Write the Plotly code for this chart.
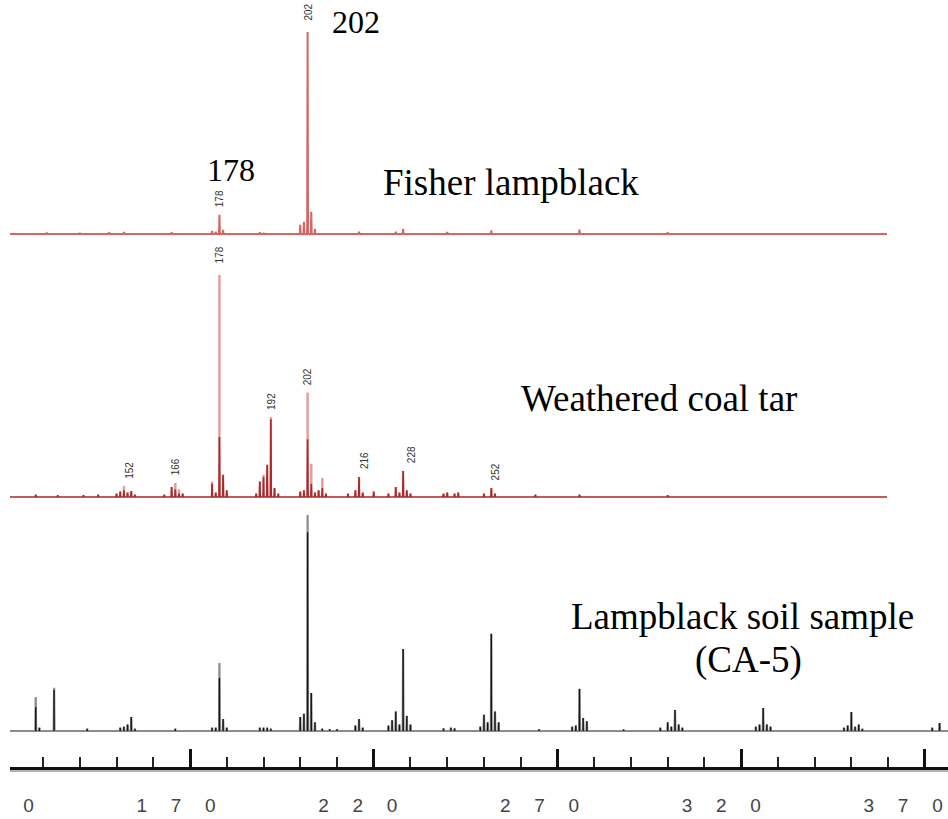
import plotly.graph_objects as go

# ---------------- data ----------------
# x (m/z) tick values / labels
tick_vals = [170, 220, 270, 320, 370]
label_vals = [120, 170, 220, 270, 320, 370]
label_texts = ["120", "170", "220", "270", "320", "370"]

MZ_START = 121.0
MZ_END_RED = 359.7
MZ_END_BLACK = 376.3

# Fisher lampblack (relative intensity, 202 = 100)
fl_mz = [131, 140, 148, 152, 165, 176, 177, 178, 179, 189, 190, 200, 201, 202, 203, 204,
         216, 226, 228, 240, 252, 276, 300]
fl_int = [0.7, 0.6, 0.8, 1.0, 0.8, 1.5, 1.2, 9.5, 2.0, 0.8, 0.6, 4.5, 6.0, 100, 11, 2.5,
          1.2, 1.2, 2.5, 1.0, 1.8, 2.2, 0.8]
fl_labels_mz = [178, 202]
fl_labels = ["178", "202"]

# Weathered coal tar (relative intensity, 178 = 100)
wc_mz = [128, 134, 141, 145, 150, 151, 152, 153, 154, 155, 163, 165, 166, 167, 168,
         176, 177, 178, 179, 180, 188, 189, 190, 191, 192, 193, 194, 200, 201, 202,
         203, 204, 205, 206, 207, 213, 215, 216, 217, 220, 224, 226, 227, 228, 229,
         230, 239, 240, 242, 243, 250, 252, 253, 264, 276, 300]
wc_light = [1.0, 0.8, 0.8, 1.0, 1.5, 2.5, 5.0, 2.0, 2.7, 1.0, 1.0, 4.5, 6.3, 3.5, 1.5,
            7.0, 2.0, 100, 10, 3.0, 1.5, 7.0, 10, 14.5, 36, 4.0, 1.5, 2.5, 3.0, 47,
            15, 2.0, 3.0, 8.6, 1.5, 1.5, 3.0, 9.0, 2.0, 2.5, 1.5, 4.5, 2.0, 11.7, 3.0,
            1.5, 1.5, 2.0, 1.5, 2.0, 1.5, 4.0, 1.5, 1.0, 1.0, 0.8]
wc_dark = [1.0, 0.8, 0.8, 1.0, 1.5, 2.5, 3.0, 2.0, 2.7, 1.0, 1.0, 4.5, 3.5, 1.5, 1.5,
           6.0, 2.0, 27, 10, 3.0, 1.5, 7.0, 9.0, 14.5, 35, 4.0, 1.5, 2.5, 3.0, 26,
           6.0, 2.0, 3.0, 4.0, 1.5, 1.5, 3.0, 9.0, 2.0, 2.5, 1.5, 4.5, 2.0, 11.7, 3.0,
           1.5, 1.5, 2.0, 1.5, 2.0, 1.5, 4.0, 1.5, 1.0, 1.0, 0.8]
wc_labels_mz = [152, 166, 178, 192, 202, 216, 228, 252]
wc_labels = ["152", "166", "178", "192", "202", "216", "228", "252"]
wc_label_xshift = [6, 0, 0, 0, 0, 5, 8, 4]

# Lampblack soil sample CA-5 (relative intensity, 202 = 100)
cs_mz = [128, 129, 133, 142, 151, 152, 153, 154, 155, 166, 176, 177, 178, 179, 180,
         189, 190, 191, 192, 200, 201, 202, 203, 204, 206, 208, 210, 215, 216, 217,
         224, 225, 226, 227, 228, 229, 230, 239, 241, 242, 249, 250, 251, 252, 253,
         254, 265, 274, 275, 276, 277, 278, 288, 298, 300, 301, 302, 303, 304, 324,
         325, 326, 327, 328, 348, 349, 350, 351, 352, 353, 372, 374]
cs_gray = [15.7, 1.5, 20, 1.0, 1.5, 2.0, 3.0, 6.5, 1.0, 1.0, 1.5, 1.5, 31.5, 5.5, 1.5,
           1.5, 1.5, 1.5, 1.0, 6.5, 8.0, 100, 17.6, 4.0, 1.0, 0.8, 0.8, 2.5, 5.5, 1.5,
           2.5, 5.0, 9.0, 3.0, 38, 7.0, 3.0, 1.2, 1.5, 1.2, 2.0, 7.5, 4.0, 45, 9.0,
           4.0, 0.8, 2.0, 2.5, 19.5, 6.0, 4.5, 0.7, 1.5, 4.0, 2.0, 9.7, 3.0, 1.5, 2.0,
           3.0, 10.6, 3.0, 2.0, 1.5, 2.5, 8.8, 2.0, 3.0, 1.0, 1.5, 3.7]
cs_dark = [11, 1.5, 19, 1.0, 1.5, 2.0, 3.0, 6.5, 1.0, 1.0, 1.5, 1.5, 24.5, 5.5, 1.5,
           1.5, 1.5, 1.5, 1.0, 6.5, 8.0, 92, 17.6, 4.0, 1.0, 0.8, 0.8, 2.5, 5.5, 1.5,
           2.5, 5.0, 9.0, 3.0, 38, 7.0, 3.0, 1.2, 1.5, 1.2, 2.0, 7.5, 4.0, 45, 9.0,
           4.0, 0.8, 2.0, 2.5, 19.5, 6.0, 4.5, 0.7, 1.5, 4.0, 2.0, 9.7, 3.0, 1.5, 2.0,
           3.0, 10.6, 3.0, 2.0, 1.5, 2.5, 8.8, 2.0, 3.0, 1.0, 1.5, 3.7]

# ---------------- helpers ----------------
W, H = 948, 819
LEFT_PX = 10


def profile(mz, inten, x0, x1):
    xs, ys = [x0], [0]
    for m, h in sorted(zip(mz, inten)):
        xs += [m - 0.12, m, m + 0.12]
        ys += [0, h, 0]
    xs.append(x1)
    ys.append(0)
    return xs, ys


def sticks(mz, inten):
    xs, ys = [], []
    for m, h in zip(mz, inten):
        xs += [m, m, None]
        ys += [0, h, None]
    return xs, ys


def yrange(base_px, full_px):
    ppu = (base_px - full_px) / 100.0
    return [-(H - base_px) / ppu, base_px / ppu]


def spaced(s):
    return "\u2003\u2005".join(s)


fig = go.Figure()

# Fisher lampblack
x, y = profile(fl_mz, fl_int, MZ_START, MZ_END_RED)
fig.add_trace(go.Scatter(x=x, y=y, mode="lines", yaxis="y",
                         line=dict(color="#D66666", width=2.0), hoverinfo="skip"))

# Weathered coal tar
x, y = sticks(wc_mz, wc_light)
fig.add_trace(go.Scatter(x=x, y=y, mode="lines", yaxis="y2",
                         line=dict(color="#E79A9A", width=2.4), hoverinfo="skip"))
x, y = profile(wc_mz, wc_dark, MZ_START, MZ_END_RED)
fig.add_trace(go.Scatter(x=x, y=y, mode="lines", yaxis="y2",
                         line=dict(color="#A82A2A", width=1.6), hoverinfo="skip"))

# Lampblack soil sample
x, y = profile(cs_mz, cs_gray, MZ_START, MZ_END_BLACK)
fig.add_trace(go.Scatter(x=x, y=y, mode="lines", yaxis="y3",
                         line=dict(color="#8C8C8C", width=2.2), hoverinfo="skip"))
x, y = sticks(cs_mz, cs_dark)
fig.add_trace(go.Scatter(x=x, y=y, mode="lines", yaxis="y3",
                         line=dict(color="#151515", width=1.4), hoverinfo="skip"))

# empty trace so the label-only x axis gets a subplot and is drawn
fig.add_trace(go.Scatter(x=[label_vals[1]], y=[None], xaxis="x2", yaxis="y",
                         mode="lines", hoverinfo="skip"))

annotations = []
small_font = dict(family="Liberation Sans Narrow, Arial Narrow, Liberation Sans, Arial",
                  size=10, color="#333333")
for m, t in zip(fl_labels_mz, fl_labels):
    h = fl_int[fl_mz.index(m)]
    annotations.append(dict(x=m, y=h, xref="x", yref="y", text=t, showarrow=False,
                            textangle=-90, font=small_font, yanchor="middle",
                            yshift=20 if h > 50 else 16))
for m, t, xs in zip(wc_labels_mz, wc_labels, wc_label_xshift):
    h = wc_light[wc_mz.index(m)]
    annotations.append(dict(x=m, y=h, xref="x", yref="y2", text=t, showarrow=False,
                            textangle=-90, font=small_font, yanchor="middle",
                            xshift=xs, yshift=20 if h > 50 else 16))

serif = "Liberation Serif, Times New Roman, serif"
big_texts = [
    ("202", 356, 22, 32),
    ("178", 231, 170, 32),
    ("Fisher lampblack", 511, 182, 37),
    ("Weathered coal tar", 659, 398, 37),
    ("Lampblack soil sample", 742, 616, 37),
    ("(CA-5)", 748, 660, 37),
]
for t, px, py, fs in big_texts:
    annotations.append(dict(x=px / W, y=1 - py / H, xref="paper", yref="paper", text=t,
                            showarrow=False, xanchor="center", yanchor="middle",
                            font=dict(family=serif, size=fs, color="#000000")))

tick_font = dict(family="Liberation Sans Narrow, Arial Narrow, Liberation Sans, Arial",
                 size=19, color="#444444")
axis_y_px = 768
axis_pos = 1 - axis_y_px / H

# second axis that shares the same pixel scale but spans the full width, for labels only
scale = (MZ_END_BLACK - MZ_START) / (W - LEFT_PX)
x2_start = MZ_START - LEFT_PX * scale

fig.update_layout(
    width=W, height=H,
    margin=dict(l=0, r=0, t=0, b=0, autoexpand=False),
    paper_bgcolor="white", plot_bgcolor="white",
    showlegend=False,
    xaxis=dict(domain=[LEFT_PX / W, 1], range=[MZ_START, MZ_END_BLACK],
               anchor="free", position=axis_pos, automargin=False,
               showgrid=False, zeroline=False,
               showline=True, linecolor="#111111", linewidth=3,
               ticks="inside", ticklen=18, tickwidth=2.5, tickcolor="#111111",
               tickvals=tick_vals, showticklabels=False,
               minor=dict(ticks="inside", ticklen=10, tickwidth=1.5, tickcolor="#222222",
                          dtick=10, tick0=120, showgrid=False)),
    xaxis2=dict(domain=[0, 1], range=[x2_start, MZ_END_BLACK], overlaying="x",
                anchor="free", position=axis_pos, automargin=False,
                showgrid=False, zeroline=False, showline=False, ticks="",
                tickvals=label_vals, ticktext=[spaced(s) for s in label_texts],
                tickfont=tick_font, ticklabelshift=-22, ticklabelstandoff=24,
                ticklabeloverflow="allow"),
    yaxis=dict(domain=[0, 1], range=yrange(234, 32), visible=False, automargin=False),
    yaxis2=dict(domain=[0, 1], range=yrange(497, 275), visible=False, overlaying="y",
                automargin=False),
    yaxis3=dict(domain=[0, 1], range=yrange(731, 515), visible=False, overlaying="y",
                automargin=False),
    annotations=annotations,
    shapes=[dict(type="line", xref="paper", yref="paper", x0=LEFT_PX / W, x1=1,
                 y0=1 - (axis_y_px + 3) / H, y1=1 - (axis_y_px + 3) / H,
                 line=dict(color="#9A9A9A", width=1.5))],
)

fig.write_html("out.html")
